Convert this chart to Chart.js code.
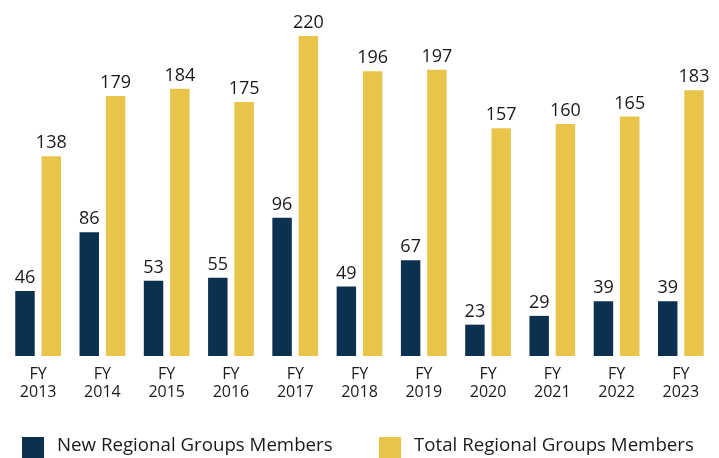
<!DOCTYPE html>
<html>
<head>
<meta charset="utf-8">
<script src="https://cdn.jsdelivr.net/npm/chart.js@4"></script>
<style>
  html, body { margin: 0; padding: 0; background: #fff; }
  #wrap { width: 719px; height: 458px; position: relative; }
</style>
</head>
<body>
<div id="wrap"><canvas id="membersChart"></canvas></div>
<script>
// --- Data ---
const YEARS = ["2013", "2014", "2015", "2016", "2017", "2018", "2019", "2020", "2021", "2022", "2023"];
const NEW_MEMBERS = [46, 86, 53, 55, 96, 49, 67, 23, 29, 39, 39];
const TOTAL_MEMBERS = [138, 179, 184, 175, 220, 196, 197, 157, 160, 165, 183];
const SERIES_NAMES = ["New Regional Groups Members", "Total Regional Groups Members"];

const COLORS = {
  NAVY: "#0c304f",
  GOLD: "#e8c54a",
  TEXT: "#1a1a1a",
};
const FONT_FAMILY = "'Open Sans', 'Noto Sans', sans-serif";

// value labels above each bar
const barValueLabels = {
  id: "barValueLabels",
  afterDatasetsDraw(chart) {
    const ctx = chart.ctx;
    ctx.save();
    ctx.font = "18px " + FONT_FAMILY;
    ctx.fillStyle = COLORS.TEXT;
    ctx.textAlign = "center";
    ctx.textBaseline = "alphabetic";
    chart.data.datasets.forEach((ds, i) => {
      const meta = chart.getDatasetMeta(i);
      meta.data.forEach((bar, j) => {
        ctx.fillText(String(ds.data[j]), bar.x, bar.y - 8);
      });
    });
    ctx.restore();
  },
};

// legend drawn by hand so the spacing matches
const bottomLegend = {
  id: "bottomLegend",
  afterDraw(chart) {
    const ctx = chart.ctx;
    const items = [
      { x: 22, color: COLORS.NAVY, text: SERIES_NAMES[0] },
      { x: 379, color: COLORS.GOLD, text: SERIES_NAMES[1] },
    ];
    ctx.save();
    ctx.font = "18.7px " + FONT_FAMILY;
    ctx.textBaseline = "middle";
    ctx.textAlign = "left";
    items.forEach((it) => {
      ctx.fillStyle = it.color;
      ctx.fillRect(it.x, 437, 22, 21);
      ctx.fillStyle = COLORS.TEXT;
      ctx.fillText(it.text, it.x + 35, 446);
    });
    ctx.restore();
  },
};

function init() {
  const ctx = document.getElementById("membersChart").getContext("2d");
  new Chart(ctx, {
    type: "bar",
    data: {
      labels: YEARS.map((y) => ["FY", y]),
      datasets: [
        {
          label: SERIES_NAMES[0],
          data: NEW_MEMBERS,
          backgroundColor: COLORS.NAVY,
        },
        {
          label: SERIES_NAMES[1],
          data: TOTAL_MEMBERS,
          backgroundColor: COLORS.GOLD,
        },
      ],
    },
    options: {
      responsive: true,
      maintainAspectRatio: false,
      animation: false,
      devicePixelRatio: 1,
      categoryPercentage: 0.818,
      barPercentage: 0.74,
      layout: { padding: { left: 6, right: 6, top: 0, bottom: 0 } },
      scales: {
        x: {
          grid: { display: false, drawTicks: false },
          border: { display: false },
          ticks: {
            color: COLORS.TEXT,
            padding: 10,
            maxRotation: 0,
            autoSkip: false,
            font: { family: FONT_FAMILY, size: 16, lineHeight: 1.1 },
          },
          afterFit(scale) {
            scale.height = 102;
          },
        },
        y: {
          display: false,
          min: 1.6,
          max: 244.6,
        },
      },
      plugins: {
        legend: { display: false },
        tooltip: { enabled: false },
      },
    },
    plugins: [barValueLabels, bottomLegend],
  });
}

document.addEventListener("DOMContentLoaded", init);
</script>
</body>
</html>
